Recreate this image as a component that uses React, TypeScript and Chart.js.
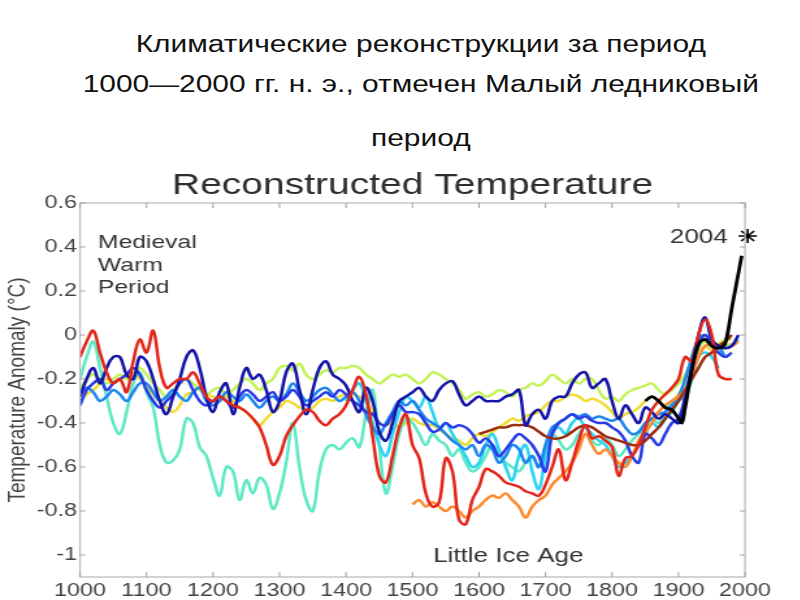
import React, { useEffect, useRef } from 'react';
import { Chart, registerables } from 'chart.js';

Chart.register(...registerables);

// The reference picture is stretched horizontally; we draw at a narrower width and scale by CSS.
const STRETCH = 1.3;
const W = 800 / STRETCH;

const HEADER_LINES = [
  'Климатические реконструкции за период',
  '1000—2000 гг. н. э., отмечен Малый ледниковый',
  'период',
];
const HEADER_TOPS = [33, 73, 127];

const CHART_TITLE = 'Reconstructed Temperature';
const Y_TITLE = 'Temperature Anomaly (°C)';

const X_TICKS = [1000, 1100, 1200, 1300, 1400, 1500, 1600, 1700, 1800, 1900, 2000];
const Y_TICKS = [-1, -0.8, -0.6, -0.4, -0.2, 0, 0.2, 0.4, 0.6];

// Reconstructions, one value per decade from the given start year
const NAVY_START = 1000;
const NAVY = [
  -0.28, -0.2, -0.15, -0.22, -0.15, -0.1, -0.1, -0.18, -0.2, -0.1,
  -0.12, -0.2, -0.3, -0.36, -0.28, -0.2, -0.1, -0.07, -0.15, -0.28,
  -0.35, -0.26, -0.22, -0.36, -0.24, -0.15, -0.2, -0.18, -0.25, -0.35,
  -0.3, -0.17, -0.13, -0.25, -0.36, -0.25, -0.15, -0.12, -0.18, -0.2,
  -0.23, -0.3, -0.35, -0.24, -0.3, -0.44, -0.48, -0.4, -0.3, -0.28,
  -0.26, -0.24, -0.28, -0.3, -0.25, -0.22, -0.21, -0.27, -0.32, -0.3,
  -0.28, -0.3, -0.3, -0.3, -0.28, -0.27, -0.25, -0.41, -0.36, -0.34,
  -0.38, -0.3, -0.28, -0.28, -0.22, -0.18, -0.17, -0.24, -0.22, -0.2,
  -0.3, -0.38, -0.32, -0.36, -0.4, -0.33, -0.35, -0.38, -0.36, -0.38,
  -0.4, -0.3, -0.15, 0.0, 0.08, -0.02, -0.05, -0.06, -0.05, 0.0,
];

const BLUE_START = 1000;
const BLUE = [
  -0.32, -0.25, -0.22, -0.2, -0.25, -0.22, -0.2, -0.18, -0.15, -0.18,
  -0.25, -0.3, -0.33, -0.3, -0.27, -0.22, -0.2, -0.25, -0.3, -0.32,
  -0.3, -0.28, -0.3, -0.33, -0.28, -0.25, -0.27, -0.3, -0.28, -0.26,
  -0.3, -0.28, -0.25, -0.28, -0.32, -0.3, -0.28, -0.26, -0.28, -0.25,
  -0.27, -0.3, -0.32, -0.35, -0.36, -0.4, -0.41, -0.36, -0.32, -0.35,
  -0.35, -0.36, -0.4, -0.44, -0.43, -0.4, -0.42, -0.41, -0.42, -0.45,
  -0.49, -0.47, -0.5, -0.55, -0.52, -0.48, -0.45, -0.47, -0.5, -0.55,
  -0.62, -0.45, -0.4, -0.38, -0.36, -0.38, -0.37, -0.39, -0.4, -0.4,
  -0.42, -0.44, -0.48, -0.55, -0.58, -0.45, -0.47, -0.5, -0.45, -0.4,
  -0.38, -0.28, -0.15, -0.05, 0.0, -0.05, -0.08, -0.1, -0.08,
];

const AZURE_START = 1000;
const AZURE = [
  -0.27, -0.24, -0.26, -0.3, -0.28, -0.25, -0.27, -0.3, -0.26, -0.22,
  -0.22, -0.26, -0.3, -0.28, -0.25, -0.28, -0.3, -0.26, -0.24, -0.3,
  -0.32, -0.3, -0.26, -0.28, -0.3, -0.27, -0.3, -0.33, -0.3, -0.28,
  -0.3, -0.27, -0.22, -0.26, -0.3, -0.28, -0.25, -0.24, -0.27, -0.3,
  -0.28, -0.26, -0.3, -0.36, -0.42, -0.45, -0.4, -0.35, -0.3, -0.32,
  -0.3, -0.34, -0.38, -0.4, -0.42, -0.45, -0.48, -0.5, -0.52, -0.5,
  -0.55, -0.5, -0.52, -0.58, -0.55, -0.5, -0.52, -0.58, -0.55, -0.6,
  -0.5, -0.42, -0.4, -0.38, -0.36, -0.37, -0.36, -0.38, -0.37, -0.38,
  -0.39, -0.38, -0.42, -0.45, -0.44, -0.4, -0.38, -0.36, -0.35, -0.32,
  -0.28, -0.2, -0.1, -0.02, 0.0, -0.03, -0.05, -0.1,
];

const CYAN_START = 1400;
const CYAN = [
  -0.3, -0.25, -0.22, -0.3, -0.4, -0.5, -0.55, -0.45, -0.35, -0.28,
  -0.3, -0.33, -0.28, -0.35, -0.42, -0.4, -0.45, -0.5, -0.55, -0.6,
  -0.58, -0.5, -0.45, -0.52, -0.6, -0.66, -0.55, -0.5, -0.62, -0.7,
  -0.55, -0.45, -0.42, -0.45, -0.4, -0.38, -0.42, -0.45, -0.48, -0.5,
  -0.55, -0.6, -0.58, -0.55, -0.5, -0.45, -0.4, -0.42, -0.38, -0.35,
  -0.3, -0.28, -0.2, -0.1, -0.08, -0.1, -0.15,
];

const TURQ_START = 1000;
const TURQ = [
  -0.2, -0.1, -0.03, -0.15, -0.28, -0.4, -0.45, -0.35, -0.22, -0.17,
  -0.26, -0.33, -0.5, -0.58, -0.57, -0.52, -0.38, -0.4, -0.51, -0.55,
  -0.65, -0.73, -0.6, -0.62, -0.75, -0.66, -0.72, -0.65, -0.68, -0.79,
  -0.72, -0.58, -0.4, -0.6, -0.75, -0.8, -0.62, -0.52, -0.5, -0.52,
  -0.49, -0.47, -0.51, -0.36, -0.25, -0.5, -0.72, -0.6, -0.45, -0.38,
  -0.4, -0.45, -0.5, -0.45, -0.48, -0.5, -0.55, -0.52, -0.58, -0.62,
  -0.6, -0.55, -0.5, -0.55, -0.58, -0.6, -0.62, -0.58, -0.55, -0.6,
  -0.5, -0.45, -0.48, -0.52, -0.5, -0.45, -0.42, -0.48, -0.5, -0.47,
  -0.5, -0.55, -0.52, -0.48, -0.45, -0.42, -0.38, -0.4, -0.35, -0.3,
  -0.28, -0.25, -0.15, -0.05, -0.02, -0.05, -0.08, -0.05, -0.05, -0.02,
];

const LIME_START = 1000;
const LIME = [
  -0.25, -0.2, -0.18, -0.2, -0.22, -0.2, -0.18, -0.2, -0.18, -0.15,
  -0.18, -0.22, -0.25, -0.28, -0.25, -0.22, -0.2, -0.22, -0.25, -0.27,
  -0.25, -0.24, -0.27, -0.25, -0.22, -0.2, -0.22, -0.25, -0.22, -0.2,
  -0.15, -0.14, -0.16, -0.13, -0.18, -0.2, -0.18, -0.16, -0.17, -0.15,
  -0.15, -0.14, -0.15, -0.18, -0.2, -0.22, -0.2, -0.18, -0.19, -0.18,
  -0.2, -0.22, -0.2, -0.17, -0.18, -0.2, -0.22, -0.25, -0.29, -0.27,
  -0.26, -0.28, -0.27, -0.25, -0.26, -0.28, -0.25, -0.24, -0.22, -0.23,
  -0.21, -0.18, -0.2, -0.22, -0.2, -0.22, -0.2, -0.2, -0.25, -0.29,
  -0.28, -0.3, -0.27, -0.25, -0.24, -0.23, -0.22, -0.25, -0.27, -0.25,
  -0.22, -0.18, -0.12, -0.06, -0.03, -0.05, -0.04, -0.02, -0.02,
];

const YELLOW_START = 1000;
const YELLOW = [
  -0.3, -0.27, -0.25, -0.22, -0.2, -0.22, -0.2, -0.18, -0.17, -0.2,
  -0.23, -0.27, -0.3, -0.33, -0.35, -0.32, -0.27, -0.26, -0.24, -0.27,
  -0.28, -0.3, -0.28, -0.3, -0.33, -0.35, -0.38, -0.41, -0.38, -0.35,
  -0.33, -0.3, -0.31, -0.33, -0.34, -0.33, -0.3, -0.29, -0.3, -0.28,
  -0.27, -0.27, -0.28, -0.3, -0.35, -0.4, -0.41, -0.4, -0.42, -0.4,
  -0.38, -0.4, -0.41, -0.41, -0.43, -0.45, -0.47, -0.48, -0.5, -0.47,
  -0.45, -0.46, -0.44, -0.42, -0.4, -0.38, -0.39, -0.37, -0.36, -0.35,
  -0.32, -0.3, -0.3, -0.28, -0.27, -0.28, -0.3, -0.29, -0.3, -0.32,
  -0.35, -0.38, -0.36, -0.35, -0.33, -0.3, -0.28, -0.3, -0.32, -0.3,
  -0.27, -0.22, -0.15, -0.08, -0.05, -0.07, -0.08, -0.05, -0.04,
];

const ORANGE_START = 1500;
const ORANGE = [
  -0.77, -0.75, -0.78, -0.76, -0.78, -0.8, -0.78, -0.8, -0.83, -0.8,
  -0.78, -0.75, -0.73, -0.74, -0.72, -0.75, -0.78, -0.83, -0.78, -0.75,
  -0.73, -0.68, -0.65, -0.62, -0.58, -0.52, -0.45, -0.5, -0.54, -0.52,
  -0.55, -0.58, -0.6, -0.55, -0.48, -0.44, -0.4, -0.35, -0.32, -0.3,
  -0.28, -0.25, -0.18, -0.1, -0.05, -0.04, -0.05, -0.06, -0.05, -0.03,
];

const RED_START = 1000;
const RED = [
  -0.1, -0.03, 0.02, -0.08, -0.17, -0.22, -0.2, -0.26, -0.12, -0.02,
  -0.08, 0.02, -0.15, -0.24, -0.22, -0.2, -0.2, -0.17, -0.22, -0.28,
  -0.3, -0.28, -0.3, -0.32, -0.33, -0.35, -0.38, -0.42, -0.5, -0.59,
  -0.55, -0.46, -0.41, -0.37, -0.34, -0.35, -0.39, -0.41, -0.38, -0.36,
  -0.32, -0.25, -0.19, -0.27, -0.46, -0.64, -0.67, -0.55, -0.42, -0.36,
  -0.5, -0.56, -0.72, -0.78, -0.76, -0.56, -0.62, -0.84, -0.86, -0.75,
  -0.69, -0.61, -0.62, -0.64, -0.67, -0.68, -0.69, -0.71, -0.72, -0.73,
  -0.68, -0.6, -0.52, -0.66, -0.58, -0.48, -0.41, -0.47, -0.46, -0.48,
  -0.51, -0.64, -0.56, -0.55, -0.5, -0.42, -0.34, -0.3, -0.27, -0.24,
  -0.2, -0.1, -0.12, 0.0, 0.07, 0.0, -0.18, -0.2, -0.2,
];

const BROWN_START = 1600;
const BROWN = [
  -0.45, -0.44, -0.43, -0.42, -0.42, -0.41, -0.41, -0.41, -0.42, -0.44,
  -0.46, -0.47, -0.47, -0.46, -0.44, -0.42, -0.41, -0.42, -0.44, -0.46,
  -0.47, -0.48, -0.49, -0.5, -0.5, -0.48, -0.45, -0.42, -0.38, -0.34,
  -0.3, -0.25, -0.2, -0.15, -0.1, -0.08, -0.05, -0.03, 0.0,
];

// Instrumental record
const INSTR_YEARS = [1850, 1860, 1870, 1880, 1890, 1900, 1905, 1910, 1920, 1930, 1940, 1950, 1960, 1970, 1980, 1990, 1995];
const INSTR_VALUES = [-0.3, -0.28, -0.3, -0.33, -0.34, -0.38, -0.4, -0.33, -0.16, -0.04, -0.02, -0.05, -0.06, -0.04, 0.12, 0.28, 0.36];

const MARK_YEAR = [2004];
const MARK_VALUE = [0.45];

const SERIES = [
  { name: 'red', start: RED_START, values: RED, color: '#e3261a' },
  { name: 'navy', start: NAVY_START, values: NAVY, color: '#1414a8' },
  { name: 'brown', start: BROWN_START, values: BROWN, color: '#9a2c12' },
  { name: 'blue', start: BLUE_START, values: BLUE, color: '#2a3ce6' },
  { name: 'orange', start: ORANGE_START, values: ORANGE, color: '#ff8a2e' },
  { name: 'azure', start: AZURE_START, values: AZURE, color: '#1e86f0' },
  { name: 'cyan', start: CYAN_START, values: CYAN, color: '#2cd4f2' },
  { name: 'turquoise', start: TURQ_START, values: TURQ, color: '#5ee8c4' },
  { name: 'yellow', start: YELLOW_START, values: YELLOW, color: '#f2dc34' },
  { name: 'lime', start: LIME_START, values: LIME, color: '#c4f25a' },
];

const NOTES = [
  { text: 'Medieval', year: 1027, value: 0.395, size: 19, align: 'left' },
  { text: 'Warm', year: 1027, value: 0.29, size: 19, align: 'left' },
  { text: 'Period', year: 1027, value: 0.19, size: 19, align: 'left' },
  { text: 'Little Ice Age', year: 1531, value: -1.032, size: 20, align: 'left' },
  { text: '2004', year: 1974, value: 0.418, size: 20, align: 'right' },
];

const FONT = '"Liberation Sans", Arial, sans-serif';

const framePlugin = {
  id: 'frameAndNotes',
  afterDatasetsDraw(chart: any) {
    const { ctx, chartArea: a, scales } = chart;
    const x = scales.x;
    const y = scales.y;
    ctx.save();
    ctx.strokeStyle = '#bdbdbd';
    ctx.lineWidth = 1.3;
    ctx.strokeRect(a.left, a.top, a.right - a.left, a.bottom - a.top);
    ctx.strokeStyle = '#a0a0a0';
    ctx.lineWidth = 1;
    ctx.beginPath();
    X_TICKS.forEach((v) => {
      const px = x.getPixelForValue(v);
      ctx.moveTo(px, a.bottom);
      ctx.lineTo(px, a.bottom - 5);
      ctx.moveTo(px, a.top);
      ctx.lineTo(px, a.top + 5);
    });
    Y_TICKS.forEach((v) => {
      const py = y.getPixelForValue(v);
      ctx.moveTo(a.left, py);
      ctx.lineTo(a.left + 4, py);
      ctx.moveTo(a.right, py);
      ctx.lineTo(a.right - 4, py);
    });
    ctx.stroke();

    // title centred over the plot area
    ctx.fillStyle = '#2e2e2e';
    ctx.textBaseline = 'alphabetic';
    ctx.textAlign = 'center';
    ctx.font = `30px ${FONT}`;
    ctx.fillText(CHART_TITLE, (a.left + a.right) / 2, a.top - 9.5);

    ctx.fillStyle = '#333';
    NOTES.forEach((n) => {
      ctx.font = `${n.size}px ${FONT}`;
      ctx.textAlign = n.align === 'right' ? 'right' : 'left';
      ctx.fillText(n.text, x.getPixelForValue(n.year), y.getPixelForValue(n.value));
    });
    ctx.restore();
  },
};

function toPoints(start: number, values: number[]) {
  return values.map((v, i) => ({ x: start + i * 10, y: v }));
}

export default function App() {
  const canvasRef = useRef<HTMLCanvasElement | null>(null);

  useEffect(() => {
    if (!canvasRef.current) return;
    const datasets: any[] = [
      {
        label: 'instrumental',
        data: INSTR_YEARS.map((yr, i) => ({ x: yr, y: INSTR_VALUES[i] })),
        borderColor: '#000',
        borderWidth: 2.8,
        pointRadius: 0,
        tension: 0.3,
      },
      {
        label: '2004',
        data: MARK_YEAR.map((yr, i) => ({ x: yr, y: MARK_VALUE[i] })),
        showLine: false,
        pointStyle: 'star',
        pointRadius: 7,
        borderColor: '#000',
        backgroundColor: '#000',
        pointBorderWidth: 1.6,
        clip: false,
      },
      ...SERIES.map((s) => ({
        label: s.name,
        data: toPoints(s.start, s.values),
        borderColor: s.color,
        borderWidth: 2.5,
        pointRadius: 0,
        tension: 0.4,
      })),
    ];

    const chart = new Chart(canvasRef.current, {
      type: 'line',
      data: { datasets },
      plugins: [framePlugin],
      options: {
        animation: false,
        responsive: true,
        maintainAspectRatio: false,
        layout: { padding: { top: 203, right: W - 745 / STRETCH, left: 0, bottom: 0 } },
        plugins: {
          legend: { display: false },
          tooltip: { enabled: false },
          title: { display: false },
        },
        scales: {
          x: {
            type: 'linear',
            min: 1000,
            max: 2000,
            afterBuildTicks: (scale: any) => {
              scale.ticks = X_TICKS.map((v) => ({ value: v }));
            },
            afterFit: (scale: any) => {
              scale.height = 23;
            },
            ticks: {
              color: '#444',
              font: { family: FONT, size: 18 },
              padding: 3,
              maxRotation: 0,
              autoSkip: false,
              callback: (v: any) => String(v),
            },
            grid: { display: false, drawTicks: false },
            border: { display: false },
          },
          y: {
            type: 'linear',
            min: -1.1,
            max: 0.6,
            afterBuildTicks: (scale: any) => {
              scale.ticks = Y_TICKS.map((v) => ({ value: v }));
            },
            afterFit: (scale: any) => {
              scale.width = 80 / STRETCH;
            },
            ticks: {
              color: '#444',
              font: { family: FONT, size: 18 },
              padding: 2.3,
              autoSkip: false,
              callback: (v: any) => String(Math.round(Number(v) * 10) / 10),
            },
            title: {
              display: true,
              text: Y_TITLE,
              color: '#444',
              font: { family: FONT, size: 19 },
              padding: { top: 2, bottom: 0 },
            },
            grid: { display: false, drawTicks: false },
            border: { display: false },
          },
        },
      },
    });
    return () => chart.destroy();
  }, []);

  return (
    <div
      style={{
        position: 'absolute',
        left: 0,
        top: 0,
        width: W,
        height: 600,
        transform: `scaleX(${STRETCH})`,
        transformOrigin: '0 0',
        overflow: 'hidden',
        background: '#fff',
        fontFamily: FONT,
      }}
    >
      {HEADER_LINES.map((line, i) => (
        <div
          key={i}
          style={{
            position: 'absolute',
            left: 0,
            top: HEADER_TOPS[i],
            width: W,
            paddingLeft: 32,
            boxSizing: 'border-box',
            textAlign: 'center',
            fontSize: 23,
            lineHeight: '23px',
            color: '#111',
            whiteSpace: 'nowrap',
          }}
        >
          {line}
        </div>
      ))}
      <div style={{ position: 'absolute', left: 0, top: 0, width: W, height: 600 }}>
        <canvas ref={canvasRef} />
      </div>
    </div>
  );
}
